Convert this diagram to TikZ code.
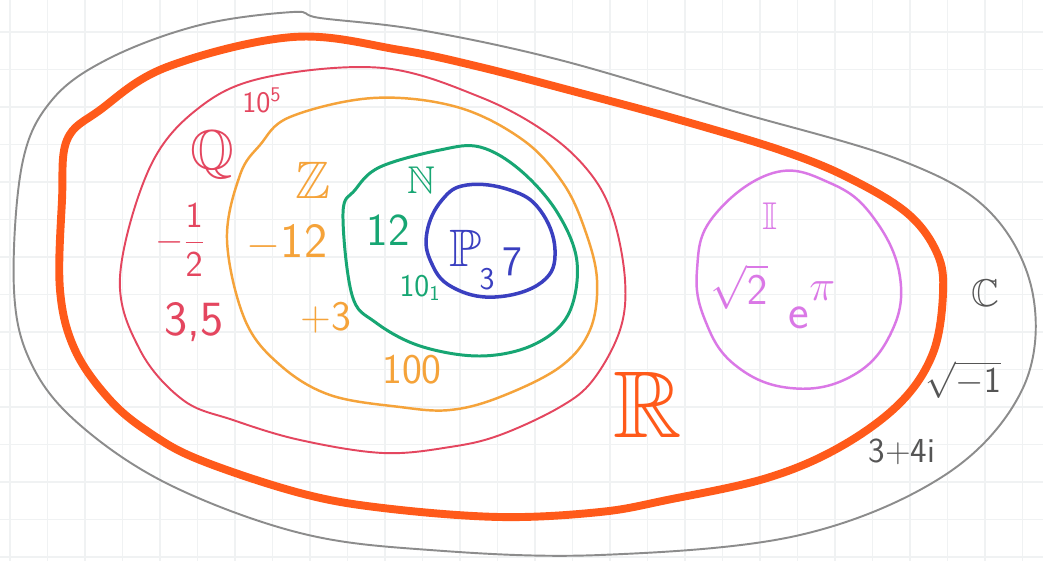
\documentclass[tikz,border=0pt]{standalone}
\usepackage{amsmath}
\usepackage{amssymb}
\usepackage{tikz}
\usetikzlibrary{positioning,calc}
\definecolor{nsGrid}{RGB}{240,242,243}
\definecolor{nsC}{RGB}{140,140,140}
\definecolor{nsCtext}{RGB}{85,85,85}
\definecolor{nsR}{RGB}{255,90,26}
\definecolor{nsQ}{RGB}{228,70,95}
\definecolor{nsZ}{RGB}{245,163,58}
\definecolor{nsN}{RGB}{23,166,115}
\definecolor{nsP}{RGB}{58,63,192}
\definecolor{nsI}{RGB}{218,120,230}
\tikzset{
    setLine/.style={
        line join=round,
        line cap=round
    },
    setLabel/.style={
        inner sep=0pt,
        font=\sffamily
    },
    % one style per set
    setC/.style={setLine, draw=nsC, line width=1.1pt},
    setR/.style={setLine, draw=nsR, line width=4.5pt},
    setQ/.style={setLine, draw=nsQ, line width=1.1pt},
    setZ/.style={setLine, draw=nsZ, line width=1.4pt},
    setN/.style={setLine, draw=nsN, line width=1.7pt},
    setP/.style={setLine, draw=nsP, line width=2pt},
    setI/.style={setLine, draw=nsI, line width=1.4pt}
}
\newcommand{\fs}[1]{\fontsize{#1}{#1}\selectfont}

\begin{document}
\begin{tikzpicture}[
    x=0.02cm, y=-0.02cm,
    gridLine/.style={draw=nsGrid, line width=0.6pt}
]
\useasboundingbox (0,0) rectangle (1043,561);
\fill[white] (0,0) rectangle (1043,561);
\foreach \k in {0,...,27}
    \draw[gridLine] ({10+37.5*\k},0) -- ({10+37.5*\k},561);
\foreach \k in {0,...,14}
    \draw[gridLine] (0,{32+37.5*\k}) -- (1043,{32+37.5*\k});

% the sets
\draw[setC] plot[smooth cycle, tension=0.6] coordinates {
    (14,290) (22,165) (52,100) (110,58) (200,25) (293,12) (320,18)
    (420,30) (560,60) (730,110) (900,160) (990,212) (1033,295)
    (1022,390) (945,475) (800,535) (600,555) (430,550) (300,533)
    (170,485) (80,425) (32,365)};
\draw[setR] plot[smooth cycle, tension=0.6] coordinates {
    (62,200) (67,140) (100,110) (167,67) (293,37) (400,50) (480,67)
    (580,93) (680,120) (780,150) (847,177) (907,213) (937,253) (943,293)
    (933,353) (900,403) (840,447) (767,478) (667,500) (600,512) (500,517)
    (383,508) (300,493) (200,460) (150,433) (110,400) (75,350) (60,290)};
\draw[setQ] plot[smooth cycle, tension=0.6] coordinates {
    (120,277) (150,167) (200,107) (267,77) (383,68) (480,97) (547,133)
    (590,173) (613,217) (625,280) (620,330) (593,380) (560,407) (500,435)
    (450,447) (383,453) (300,440) (233,420) (183,400) (140,350)};
\draw[setZ] plot[smooth cycle, tension=0.6] coordinates {
    (227,240) (240,175) (260,145) (290,117) (373,98) (457,107) (523,140)
    (563,183) (585,230) (597,280) (590,330) (560,367) (500,397) (450,410)
    (400,407) (330,395) (280,365) (245,320)};
\draw[setN] plot[smooth cycle, tension=0.6] coordinates {
    (343,213) (355,190) (380,167) (440,150) (480,147) (520,170) (557,212)
    (577,262) (568,315) (533,345) (480,356) (420,346) (375,322) (352,295)};
\draw[setP] plot[smooth cycle, tension=0.7] coordinates {
    (427,232) (442,200) (467,185) (510,190) (540,210) (555,250) (542,282)
    (495,297) (452,287) (431,262)};
\draw[setI] plot[smooth cycle, tension=0.7] coordinates {
    (697,270) (713,217) (773,173) (830,183) (873,217) (900,277) (890,335)
    (850,377) (790,388) (735,365) (705,320)};

% names of the sets
\node[setLabel, text=nsQ] (lblQ) at (212,155) {\fs{32}$\mathbb{Q}$};
\node[setLabel, text=nsZ] (lblZ) at (313,180) {\fs{30}$\mathbb{Z}$};
\node[setLabel, text=nsN] (lblN) at (421,180) {\fs{22}$\mathbb{N}$};
\node[setLabel, text=nsP] (lblP) at (466,248) {\fs{30}$\mathbb{P}$};
\node[setLabel, text=nsR] (lblR) at (648,405) {\fs{54}$\mathbb{R}$};
\node[setLabel, text=nsI] (lblI) at (770,216) {\fs{22}$\mathbb{I}$};
\node[setLabel, text=nsCtext] (lblC) at (985,293) {\fs{22}$\mathbb{C}$};

% members
\node[setLabel, text=nsQ] (qTenFive) at (262,100) {\fs{17}10\textsuperscript{5}};
\node[setLabel, text=nsQ] (qHalf) at (180,240) {\fs{20}$-\dfrac{\mathsf{1}}{\mathsf{2}}$};
\node[setLabel, text=nsQ] (qThree) at (194,322) {\fs{28}3,5};
\node[setLabel, text=nsZ] (zMinus) at (287,243) {\fs{28}$-$12};
\node[setLabel, text=nsZ] (zPlus) at (326,318) {\fs{24}+3};
\node[setLabel, text=nsZ] (zHundred) at (412,370) {\fs{24}100};
\node[setLabel, text=nsN] (nTwelve) at (388,230) {\fs{26}12};
\node[setLabel, text=nsN] (nTenOne) at (420,288) {\fs{18}10$_{\mathsf{1}}$};
\node[setLabel, text=nsP] (pSeven) at (512,262) {\fs{24}7};
\node[setLabel, text=nsP] (pThree) at (487,279) {\fs{18}3};
\node[setLabel, text=nsI] (iRoot) at (739,287) {\fs{24}$\sqrt{\mathsf{2}}$};
\node[setLabel, text=nsI] (iExp) at (812,305) {\fs{28}e\raisebox{1.3ex}{$\pi$}};
\node[setLabel, text=nsCtext] (cRoot) at (963,380) {\fs{20}$\sqrt{-\mathsf{1}}$};
\node[setLabel, text=nsCtext] (cSum) at (902,452) {\fs{20}3+4i};
\end{tikzpicture}
\end{document}
